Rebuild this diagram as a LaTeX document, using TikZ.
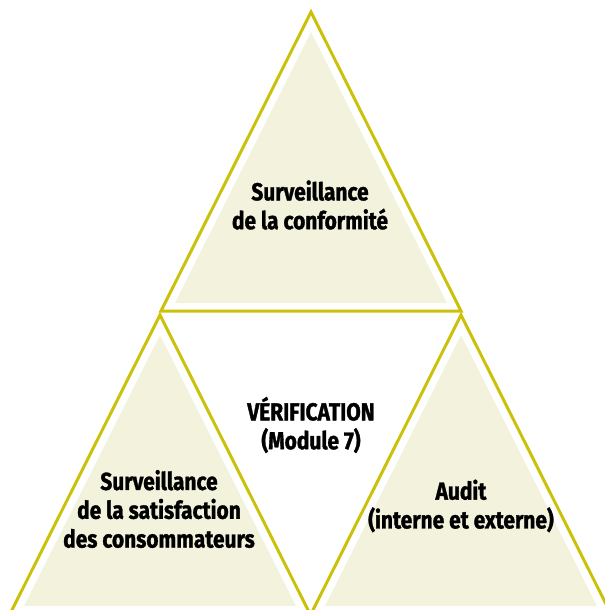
\documentclass[tikz,border=0pt]{standalone}
\usepackage{fontspec}
\setmainfont{Fira Sans}[FakeStretch=0.85, BoldFeatures={FakeBold=1.3}]

\definecolor{triline}{RGB}{204,193,10}
\definecolor{trifill}{RGB}{243,242,221}

\begin{document}
\begin{tikzpicture}[x=0.02cm, y=-0.02cm,
      font=\fontsize{14}{16.4}\selectfont\bfseries,
      label/.style={align=center, inner sep=0pt}]
   \useasboundingbox (0,0) rectangle (605,610);
   \clip (0,0) rectangle (605,610);

   % outlined triangles with a lighter filled triangle inside
   \foreach \ax/\ay in {311/12, 160/315, 461/315} {
      \fill[trifill] (\ax,\ay+20) -- (\ax-136,\ay+291) -- (\ax+136,\ay+291) -- cycle;
      \draw[triline, line width=1.7pt, line join=miter]
         (\ax,\ay) -- (\ax-150,\ay+299) -- (\ax+150,\ay+299) -- cycle;
   }

   \node[label, name=conf]  at (310,205) {Surveillance\\de la conformité};
   \node[label, name=verif] at (311,425) {VÉRIFICATION\\(Module 7)};
   \node[label, name=satis] at (159,509) {Surveillance\\de la satisfaction\\des consommateurs};
   \node[label, name=audit] at (461,506) {Audit\\(interne et externe)};
\end{tikzpicture}
\end{document}
